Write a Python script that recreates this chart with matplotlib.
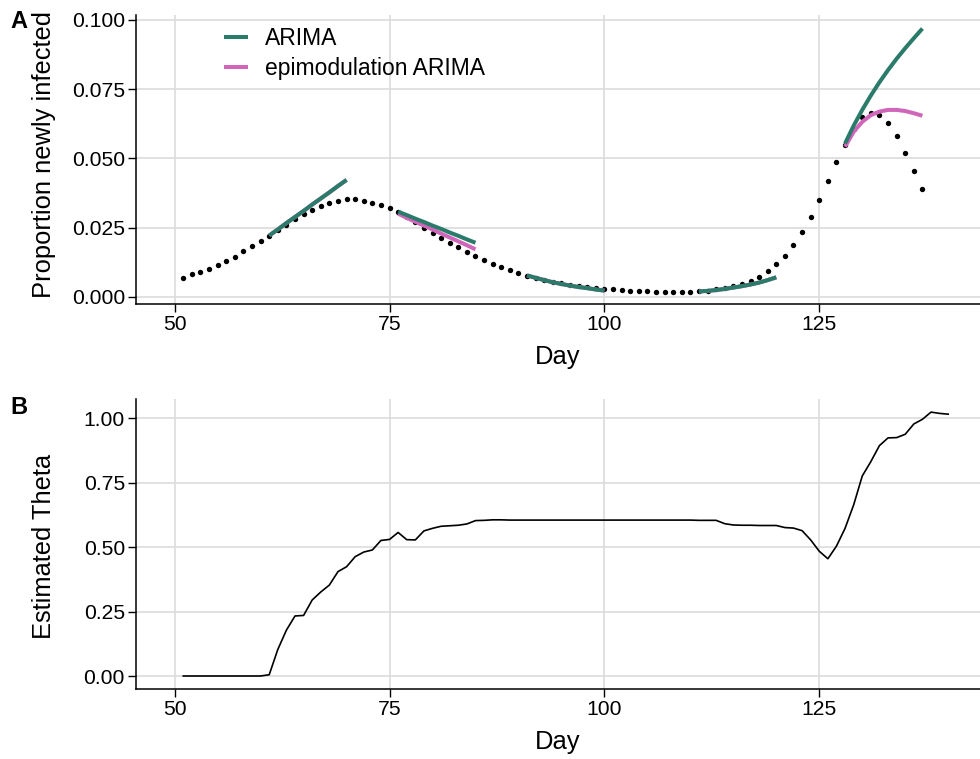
import numpy as np
import matplotlib
matplotlib.use("Agg")
import matplotlib.pyplot as plt

plt.rcParams['font.family'] = ['Liberation Sans', 'DejaVu Sans']

# panel A: observed proportion newly infected, days 51..137
obs_days = list(range(51, 138))
obs_prop = [0.0069, 0.0082, 0.0089, 0.0101, 0.0113, 0.0129, 0.0145, 0.0166, 0.0183, 0.0201,
            0.0221, 0.0240, 0.0260, 0.0280, 0.0298, 0.0313, 0.0328, 0.0337, 0.0346, 0.0352,
            0.0352, 0.0347, 0.0340, 0.0331, 0.0319, 0.0306, 0.0288, 0.0269, 0.0250, 0.0231,
            0.0213, 0.0195, 0.0178, 0.0163, 0.0147, 0.0133, 0.0118, 0.0106, 0.0096, 0.0085,
            0.0075, 0.0067, 0.0060, 0.0054, 0.0048, 0.0043, 0.0039, 0.0035, 0.0032, 0.0029,
            0.0027, 0.0025, 0.0022, 0.0020, 0.0019, 0.0018, 0.0018, 0.0018, 0.0018, 0.0018,
            0.0019, 0.0022, 0.0027, 0.0033, 0.0040, 0.0047, 0.0057, 0.0072, 0.0092, 0.0117,
            0.0147, 0.0186, 0.0233, 0.0287, 0.0349, 0.0417, 0.0486, 0.0547, 0.0605, 0.0648,
            0.0665, 0.0655, 0.0629, 0.0581, 0.0521, 0.0455, 0.0389]

# forecast windows (10 days each)
fc_start = [61, 76, 91, 111, 128]
arima_fc = [
    [0.0221, 0.0243, 0.0266, 0.0288, 0.0310, 0.0333, 0.0355, 0.0377, 0.0400, 0.0422],
    [0.0307, 0.0295, 0.0282, 0.0270, 0.0257, 0.0245, 0.0232, 0.0220, 0.0207, 0.0195],
    [0.0077, 0.0068, 0.0060, 0.0052, 0.0046, 0.0040, 0.0035, 0.0031, 0.0026, 0.0022],
    [0.0019, 0.0021, 0.0024, 0.0028, 0.0033, 0.0038, 0.0044, 0.0051, 0.0060, 0.0070],
    [0.0554, 0.0618, 0.0675, 0.0727, 0.0775, 0.0819, 0.0860, 0.0898, 0.0934, 0.0969],
]
epi_fc = [
    [0.0221, 0.0243, 0.0266, 0.0288, 0.0310, 0.0333, 0.0355, 0.0377, 0.0400, 0.0422],
    [0.0300, 0.0285, 0.0271, 0.0257, 0.0243, 0.0228, 0.0214, 0.0200, 0.0186, 0.0171],
    [0.0077, 0.0068, 0.0060, 0.0052, 0.0046, 0.0040, 0.0035, 0.0031, 0.0026, 0.0022],
    [0.0019, 0.0021, 0.0024, 0.0028, 0.0033, 0.0038, 0.0044, 0.0051, 0.0060, 0.0070],
    [0.0542, 0.0596, 0.0632, 0.0656, 0.0669, 0.0675, 0.0675, 0.0671, 0.0663, 0.0654],
]

# panel B: estimated theta, days 51..140
theta_days = list(range(51, 141))
theta = ([0.0] * 10 +
         [0.005, 0.103, 0.178, 0.233, 0.235, 0.295, 0.326, 0.353, 0.405, 0.424,
          0.463, 0.481, 0.489, 0.526, 0.530, 0.557, 0.529, 0.528, 0.563, 0.573,
          0.581, 0.583, 0.585, 0.590, 0.603, 0.604, 0.606, 0.606, 0.605] +
         [0.605, 0.605, 0.605, 0.605, 0.605, 0.605, 0.605, 0.605, 0.605, 0.605,
          0.605, 0.605, 0.605, 0.605, 0.605, 0.605, 0.605, 0.605, 0.605, 0.605,
          0.605, 0.604, 0.604, 0.604] +
         [0.591, 0.586, 0.585, 0.585, 0.584, 0.584, 0.584, 0.576, 0.574, 0.564,
          0.528, 0.484, 0.455, 0.504, 0.573, 0.664, 0.776, 0.832, 0.894, 0.924,
          0.925, 0.938, 0.978, 0.996, 1.024, 1.019, 1.016])

GREEN = '#2B7B6B'
PINK = '#D066B9'
W, H = 980, 759

fig = plt.figure(figsize=(W / 100, H / 100), dpi=100)


def px_axes(left, top, right, bottom):
    return fig.add_axes([left / W, 1 - bottom / H, (right - left) / W, (bottom - top) / H])


def style(ax):
    for s in ['top', 'right']:
        ax.spines[s].set_visible(False)
    for s in ['left', 'bottom']:
        ax.spines[s].set_linewidth(1.1)
        ax.spines[s].set_color('black')
    ax.grid(True, color='#DCDCDC', lw=1.2)
    ax.set_axisbelow(True)
    ax.tick_params(labelsize=15.2, length=5.5, width=1.0, pad=2.5, colors='black')
    ax.set_xticks([50, 75, 100, 125])
    ax.set_xlim(45.5, 143.7)


axA = px_axes(136, 15, 980, 304.3)
style(axA)
for i, st in enumerate(fc_start):
    d = list(range(st, st + 10))
    axA.plot(d, epi_fc[i], color=PINK, lw=2.9, solid_capstyle='butt',
             label='epimodulation ARIMA' if i == 0 else None, zorder=3)
    axA.plot(d, arima_fc[i], color=GREEN, lw=2.9, solid_capstyle='butt',
             label='ARIMA' if i == 0 else None, zorder=4)
axA.scatter(obs_days, obs_prop, s=15, color='black', linewidths=0, zorder=2)
axA.set_ylim(-0.00275, 0.1018)
axA.set_yticks([0, 0.025, 0.05, 0.075, 0.1])
axA.set_yticklabels(['%.3f' % v for v in [0, 0.025, 0.05, 0.075, 0.1]])
h, l = axA.get_legend_handles_labels()
axA.legend([h[1], h[0]], [l[1], l[0]], loc='upper left', frameon=False,
           bbox_to_anchor=(224 / W, 1 - 27 / H), bbox_transform=fig.transFigure,
           borderpad=0, borderaxespad=0, handlelength=1.05, handletextpad=0.75,
           labelspacing=0.3, fontsize=16.5)

axB = px_axes(136, 399.3, 980, 689.3)
style(axB)
axB.plot(theta_days, theta, color='black', lw=1.2)
axB.set_ylim(-0.0516, 1.0737)
axB.set_yticks([0, 0.25, 0.5, 0.75, 1.0])
axB.set_yticklabels(['%.2f' % v for v in [0, 0.25, 0.5, 0.75, 1.0]])

fig.text(44 / W, 1 - 154 / H, 'Proportion newly infected', rotation=90,
         ha='center', va='center', fontsize=18.4)
fig.text(44 / W, 1 - 546 / H, 'Estimated Theta', rotation=90,
         ha='center', va='center', fontsize=18.4)
fig.text(558 / W, 1 - 357 / H, 'Day', ha='center', va='center', fontsize=18.4)
fig.text(558 / W, 1 - 742 / H, 'Day', ha='center', va='center', fontsize=18.4)
fig.text(19 / W, 1 - 21 / H, 'A', ha='center', va='center', fontsize=17, fontweight='bold')
fig.text(19 / W, 1 - 408 / H, 'B', ha='center', va='center', fontsize=17, fontweight='bold')

fig.savefig('out.png', dpi=100)
